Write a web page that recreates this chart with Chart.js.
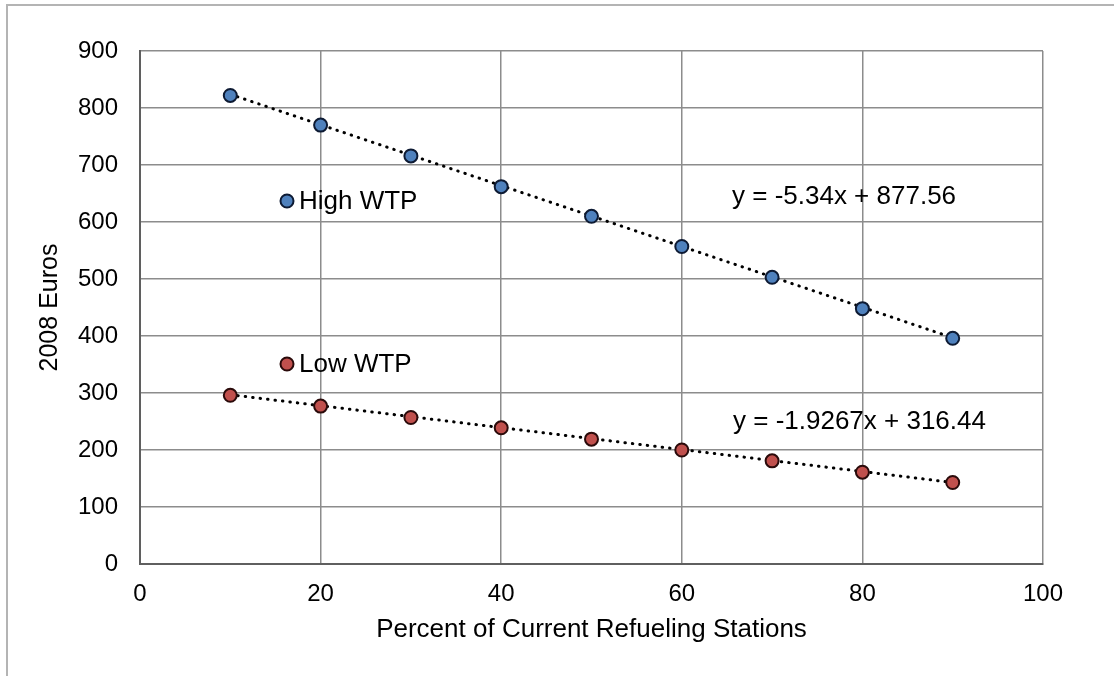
<!DOCTYPE html>
<html>
<head>
<meta charset="utf-8">
<script src="https://cdn.jsdelivr.net/npm/chart.js@4"></script>
<style>
  html, body { margin: 0; padding: 0; background: #fff; }
  #wrap { width: 1114px; height: 676px; position: relative; }
</style>
</head>
<body>
<div id="wrap"><canvas id="chart"></canvas></div>
<script>
// stations share (%) and willingness to pay
const stations = [10, 20, 30, 40, 50, 60, 70, 80, 90];
const highWTP = [822, 770, 716, 662, 610, 557, 503, 448, 396];
const lowWTP = [296, 277, 257, 239, 219, 200, 181, 161, 143];

// linear trend ends (x = 10 and x = 90)
const trendX = [10, 90];
const highTrend = [824, 397];
const lowTrend = [297, 143];

const highLabel = "y = -5.34x + 877.56";
const lowLabel = "y = -1.9267x + 316.44";

const xTicks = [0, 20, 40, 60, 80, 100];
const yTicks = [0, 100, 200, 300, 400, 500, 600, 700, 800, 900];

const FONT = "'Liberation Sans', Arial, sans-serif";
const BLUE = "#4f81bd";
const RED = "#c0504d";
const EDGE = "#0d1a33";
const RED_EDGE = "#2a0a0a";

const toPoints = (xs, ys) => xs.map((x, i) => ({ x, y: ys[i] }));

const trendStyle = {
  type: "line",
  showLine: true,
  order: 2,
  borderColor: "#000",
  borderWidth: 3,
  borderDash: [0.5, 7],
  borderCapStyle: "round",
  pointRadius: 0,
  pointHoverRadius: 0,
  fill: false,
};

// outer frame, legend markers and trend equations
const decorations = {
  id: "decorations",
  beforeDraw(chart) {
    const c = chart.ctx;
    c.save();
    c.strokeStyle = "#b4b4b4";
    c.lineWidth = 2;
    c.beginPath();
    c.moveTo(7, 676);
    c.lineTo(7, 5);
    c.lineTo(1114, 5);
    c.stroke();
    c.restore();
  },
  afterDatasetsDraw(chart) {
    const c = chart.ctx;
    const a = chart.chartArea;
    c.save();
    const marker = (x, y, fill, edge) => {
      c.beginPath();
      c.arc(x, y, 6.5, 0, Math.PI * 2);
      c.fillStyle = fill;
      c.fill();
      c.lineWidth = 2;
      c.strokeStyle = edge;
      c.stroke();
    };
    const label = (text, x, y) => {
      c.font = "26px " + FONT;
      c.fillStyle = "#000";
      c.textBaseline = "middle";
      c.textAlign = "left";
      c.fillText(text, x, y);
    };
    marker(a.left + 147, a.top + 150, BLUE, EDGE);
    label("High WTP", a.left + 159, a.top + 151);
    marker(a.left + 147, a.top + 313, RED, RED_EDGE);
    label("Low WTP", a.left + 159, a.top + 314);
    label(highLabel, a.left + 592, a.top + 146);
    label(lowLabel, a.left + 593, a.top + 371);
    c.restore();
  },
};

new Chart(document.getElementById("chart"), {
  type: "scatter",
  data: {
    datasets: [
      {
        label: "High WTP",
        order: 1,
        data: toPoints(stations, highWTP),
        backgroundColor: BLUE,
        borderColor: EDGE,
        borderWidth: 2,
        pointRadius: 6.5,
      },
      {
        label: "Low WTP",
        order: 1,
        data: toPoints(stations, lowWTP),
        backgroundColor: RED,
        borderColor: RED_EDGE,
        borderWidth: 2,
        pointRadius: 6.5,
      },
      { ...trendStyle, data: toPoints(trendX, highTrend) },
      { ...trendStyle, data: toPoints(trendX, lowTrend) },
    ],
  },
  options: {
    responsive: true,
    maintainAspectRatio: false,
    animation: false,
    layout: { padding: { top: 51, right: 71, left: 0, bottom: 0 } },
    plugins: {
      legend: { display: false },
      tooltip: { enabled: false },
    },
    scales: {
      x: {
        type: "linear",
        min: 0,
        max: 100,
        afterBuildTicks: (s) => { s.ticks = xTicks.map((v) => ({ value: v })); },
        afterFit: (s) => { s.height = 112; },
        grid: { color: "#8c8c8c", lineWidth: 1.5, drawTicks: false },
        border: { color: "#5f5f5f", width: 2 },
        ticks: { color: "#000", font: { family: FONT, size: 24 }, padding: 16 },
        title: {
          display: true,
          text: "Percent of Current Refueling Stations",
          color: "#000",
          font: { family: FONT, size: 26 },
          padding: { top: 0, bottom: 31 },
        },
      },
      y: {
        type: "linear",
        min: 0,
        max: 900,
        afterBuildTicks: (s) => { s.ticks = yTicks.map((v) => ({ value: v })); },
        afterFit: (s) => { s.width = 140; },
        grid: { color: "#8c8c8c", lineWidth: 1.5, drawTicks: false },
        border: { color: "#5f5f5f", width: 2 },
        ticks: { color: "#000", font: { family: FONT, size: 24 }, padding: 22 },
        title: {
          display: true,
          text: "2008 Euros",
          color: "#000",
          font: { family: FONT, size: 25 },
          padding: { top: 35, bottom: 0 },
        },
      },
    },
  },
  plugins: [decorations],
});
</script>
</body>
</html>
